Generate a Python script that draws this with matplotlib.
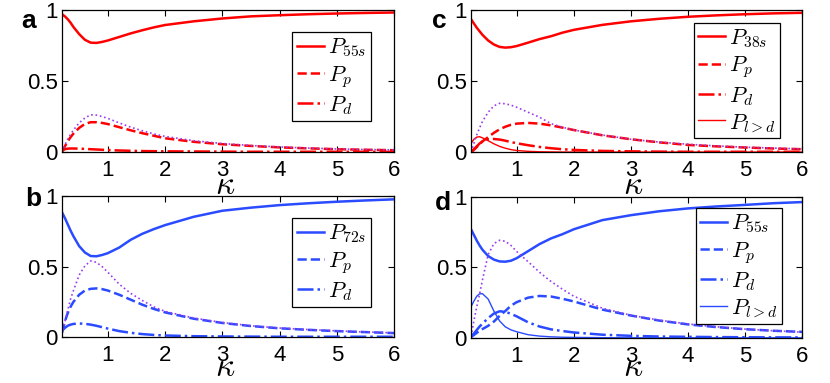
import numpy as np
import matplotlib
matplotlib.use('Agg')
import matplotlib.pyplot as plt

plt.rcParams['font.family'] = ['Liberation Sans', 'DejaVu Sans']
plt.rcParams['mathtext.fontset'] = 'cm'

# kappa grid shared by all curves
kappa = [0.2, 0.25, 0.3, 0.35, 0.4, 0.5, 0.6, 0.7, 0.8, 0.9, 1.0, 1.2, 1.4,
         1.6, 1.8, 2.0, 2.5, 3.0, 3.5, 4.0, 4.5, 5.0, 5.5, 6.0]

# panel a (55s, red)
a_s   = [0.97, 0.955, 0.935, 0.91, 0.88, 0.83, 0.79, 0.77, 0.768, 0.775, 0.785, 0.81, 0.835,
         0.857, 0.877, 0.894, 0.92, 0.94, 0.955, 0.963, 0.97, 0.975, 0.979, 0.982]
a_p   = [0.0, 0.04, 0.075, 0.105, 0.13, 0.17, 0.198, 0.21, 0.21, 0.205, 0.197, 0.175, 0.153,
         0.133, 0.115, 0.097, 0.072, 0.055, 0.043, 0.033, 0.026, 0.02, 0.016, 0.013]
a_d   = [0.01, 0.02, 0.024, 0.025, 0.025, 0.024, 0.022, 0.02, 0.018, 0.016, 0.014, 0.011, 0.009,
         0.007, 0.006, 0.005, 0.004, 0.003, 0.002, 0.002, 0.002, 0.002, 0.002, 0.002]
a_tot = [0.0, 0.05, 0.09, 0.125, 0.155, 0.205, 0.24, 0.262, 0.26, 0.25, 0.237, 0.205, 0.175,
         0.15, 0.128, 0.11, 0.08, 0.06, 0.046, 0.036, 0.028, 0.022, 0.018, 0.015]

# panel b (72s, blue)
b_s   = [0.885, 0.845, 0.8, 0.755, 0.715, 0.645, 0.6, 0.575, 0.573, 0.582, 0.595, 0.635, 0.69,
         0.732, 0.765, 0.794, 0.853, 0.896, 0.918, 0.936, 0.949, 0.96, 0.969, 0.977]
b_p   = [0.03, 0.11, 0.17, 0.215, 0.25, 0.3, 0.33, 0.342, 0.345, 0.34, 0.33, 0.3, 0.265,
         0.23, 0.2, 0.175, 0.13, 0.1, 0.078, 0.062, 0.051, 0.042, 0.035, 0.028]
b_d   = [0.045, 0.065, 0.08, 0.088, 0.093, 0.096, 0.094, 0.088, 0.08, 0.07, 0.06, 0.042, 0.03,
         0.021, 0.015, 0.011, 0.006, 0.004, 0.003, 0.002, 0.002, 0.002, 0.002, 0.002]
b_tot = [0.02, 0.11, 0.19, 0.27, 0.33, 0.44, 0.505, 0.54, 0.53, 0.5, 0.46, 0.375, 0.31,
         0.26, 0.215, 0.182, 0.135, 0.103, 0.08, 0.064, 0.053, 0.044, 0.036, 0.03]

# panel c (38s, red)
c_s   = [0.935, 0.905, 0.875, 0.85, 0.825, 0.785, 0.757, 0.74, 0.735, 0.738, 0.746, 0.77, 0.795,
         0.815, 0.84, 0.86, 0.895, 0.92, 0.938, 0.952, 0.962, 0.97, 0.976, 0.98]
c_p   = [0.0, 0.015, 0.035, 0.055, 0.075, 0.105, 0.135, 0.16, 0.178, 0.192, 0.2, 0.205, 0.2,
         0.188, 0.172, 0.155, 0.118, 0.09, 0.068, 0.05, 0.04, 0.032, 0.025, 0.02]
c_d   = [0.0, 0.02, 0.04, 0.06, 0.075, 0.09, 0.092, 0.088, 0.08, 0.07, 0.062, 0.048, 0.036,
         0.027, 0.02, 0.015, 0.008, 0.005, 0.003, 0.002, 0.002, 0.002, 0.002, 0.002]
c_l   = [0.06, 0.09, 0.105, 0.108, 0.1, 0.08, 0.058, 0.04, 0.027, 0.017, 0.011, 0.005, 0.002,
         0.001, 0.0, 0.0, 0.0, 0.0, 0.0, 0.0, 0.0, 0.0, 0.0, 0.0]
c_tot = [0.0, 0.06, 0.12, 0.17, 0.215, 0.28, 0.325, 0.343, 0.34, 0.33, 0.315, 0.28, 0.245,
         0.2, 0.175, 0.155, 0.12, 0.09, 0.07, 0.055, 0.043, 0.034, 0.028, 0.022]

# panel d (55s, blue)
d_s   = [0.77, 0.73, 0.69, 0.655, 0.625, 0.58, 0.555, 0.542, 0.54, 0.547, 0.565, 0.615, 0.665,
         0.705, 0.735, 0.77, 0.835, 0.87, 0.898, 0.918, 0.932, 0.943, 0.955, 0.963]
d_p   = [0.005, 0.02, 0.035, 0.05, 0.062, 0.085, 0.115, 0.155, 0.19, 0.228, 0.253, 0.285, 0.297,
         0.293, 0.277, 0.258, 0.2, 0.158, 0.122, 0.095, 0.076, 0.061, 0.05, 0.042]
d_d   = [0.01, 0.03, 0.055, 0.08, 0.1, 0.14, 0.172, 0.188, 0.185, 0.17, 0.152, 0.11, 0.08,
         0.06, 0.048, 0.038, 0.022, 0.014, 0.009, 0.007, 0.005, 0.004, 0.003, 0.003]
d_l   = [0.22, 0.26, 0.295, 0.312, 0.313, 0.275, 0.19, 0.12, 0.078, 0.056, 0.043, 0.022, 0.012,
         0.007, 0.004, 0.003, 0.001, 0.0, 0.0, 0.0, 0.0, 0.0, 0.0, 0.0]
d_tot = [0.01, 0.12, 0.22, 0.31, 0.41, 0.59, 0.668, 0.692, 0.685, 0.655, 0.612, 0.54, 0.465,
         0.4, 0.345, 0.295, 0.21, 0.16, 0.125, 0.098, 0.078, 0.062, 0.05, 0.04]

RED = '#ff0000'
BLUE = '#2a4bff'
PURPLE = '#9a3cf0'

fig = plt.figure(figsize=(8.3, 3.83), dpi=100)

panels = [
    # letter, axes rect, colour, s label, curves, legend anchor, letter pos, kappa y
    ('a', [0.0747, 0.603, 0.400, 0.371], RED, r'$P_{55s}$', (a_s, a_p, a_d, None, a_tot), (0.93, 0.845), (0.026, 0.927), -0.235),
    ('c', [0.5675, 0.603, 0.399, 0.371], RED, r'$P_{38s}$', (c_s, c_p, c_d, c_l, c_tot), (0.934, 0.91), (0.52, 0.927), -0.235),
    ('b', [0.0747, 0.120, 0.400, 0.368], BLUE, r'$P_{72s}$', (b_s, b_p, b_d, None, b_tot), (0.93, 0.844), (0.030, 0.463), -0.215),
    ('d', [0.5675, 0.118, 0.399, 0.368], BLUE, r'$P_{55s}$', (d_s, d_p, d_d, d_l, d_tot), (0.94, 0.92), (0.524, 0.452), -0.21),
]

for letter, rect, col, slab, curves, anchor, lpos, ky in panels:
    ax = fig.add_axes(rect)
    s, p, d, l, tot = curves
    ax.plot(kappa, s, color=col, lw=1.8, label=slab)
    ax.plot(kappa, p, color=col, lw=1.8, ls='--', label=r'$P_p$')
    ax.plot(kappa, d, color=col, lw=1.8, ls='-.', label=r'$P_d$')
    if l is not None:
        ax.plot(kappa, l, color=col, lw=1.0, label=r'$P_{l>d}$')
    ax.plot(kappa, tot, color=PURPLE, lw=1.2, ls=':')

    ax.set_xlim(0.2, 6)
    ax.set_ylim(0, 1)
    ax.set_xticks([1, 2, 3, 4, 5, 6])
    ax.set_yticks([0, 0.5, 1])
    ax.set_yticklabels(['0', '0.5', '1'])
    ax.tick_params(direction='in', top=True, right=True, length=4, width=0.8, labelsize=16)
    ax.tick_params(axis='x', pad=6)
    ax.tick_params(axis='y', pad=3)
    for sp in ax.spines.values():
        sp.set_linewidth(0.9)
    ax.text(0.49, ky, r'$\kappa$', transform=ax.transAxes, fontsize=24,
            ha='center', va='center')

    leg = ax.legend(loc='upper right', bbox_to_anchor=anchor, fontsize=16,
                    fancybox=False, framealpha=1, edgecolor='black',
                    handlelength=1.2, handletextpad=0.2, borderpad=0.2,
                    labelspacing=0.2, borderaxespad=0)
    leg.get_frame().set_linewidth(0.9)

    fig.text(lpos[0], lpos[1], letter, fontsize=19, fontweight='bold',
             ha='left', va='baseline')

fig.savefig('out.png', dpi=100)
